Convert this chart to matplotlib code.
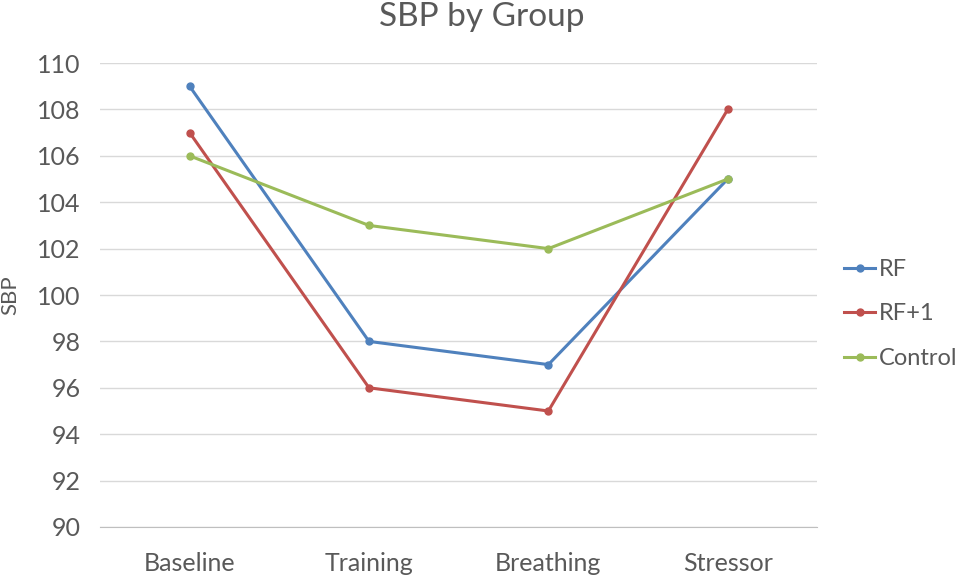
import matplotlib.pyplot as plt
import numpy as np

categories = ['Baseline', 'Training', 'Breathing', 'Stressor']
rf = [109, 98, 97, 105]
rf1 = [107, 96, 95, 108]
control = [106, 103, 102, 105]

series = [('RF', rf, '#4F81BD'), ('RF+1', rf1, '#C0504D'), ('Control', control, '#9BBB59')]

plt.rcParams['font.family'] = ['Lato', 'DejaVu Sans']

fig = plt.figure(figsize=(9.63, 5.77), dpi=100)
ax = fig.add_axes([0.1038, 0.0867, 0.745, 0.804])
x = np.arange(len(categories))
for name, vals, col in series:
    ax.plot(x, vals, color=col, lw=2.2, marker='o', ms=5, label=name)

ax.set_xlim(-0.5, len(categories) - 0.5)
ax.set_ylim(90, 110)
ax.set_yticks(np.arange(90, 111, 2))
ax.set_xticks(x)
ax.set_xticklabels(categories)
ax.grid(axis='y', color='#D9D9D9', lw=1)
ax.set_axisbelow(True)
for s in ['top', 'right', 'left']:
    ax.spines[s].set_visible(False)
ax.spines['bottom'].set_color('#BFBFBF')
ax.tick_params(length=0, labelsize=18, colors='#595959')
ax.tick_params(axis='y', pad=14)
ax.tick_params(axis='x', pad=18)
ax.set_ylabel('SBP', fontsize=16, color='#595959', labelpad=12)
fig.suptitle('SBP by Group', fontsize=24, color='#595959', y=1 - 17 / 577, va='center')
ax.legend(loc='center left', bbox_to_anchor=(835 / 963, 1 - 314 / 577),
          bbox_transform=fig.transFigure, frameon=False,
          fontsize=17, labelcolor='#595959', labelspacing=1.0,
          handlelength=1.3, handletextpad=0.15, borderaxespad=0, borderpad=0.4)

fig.savefig('out.png', dpi=100)
